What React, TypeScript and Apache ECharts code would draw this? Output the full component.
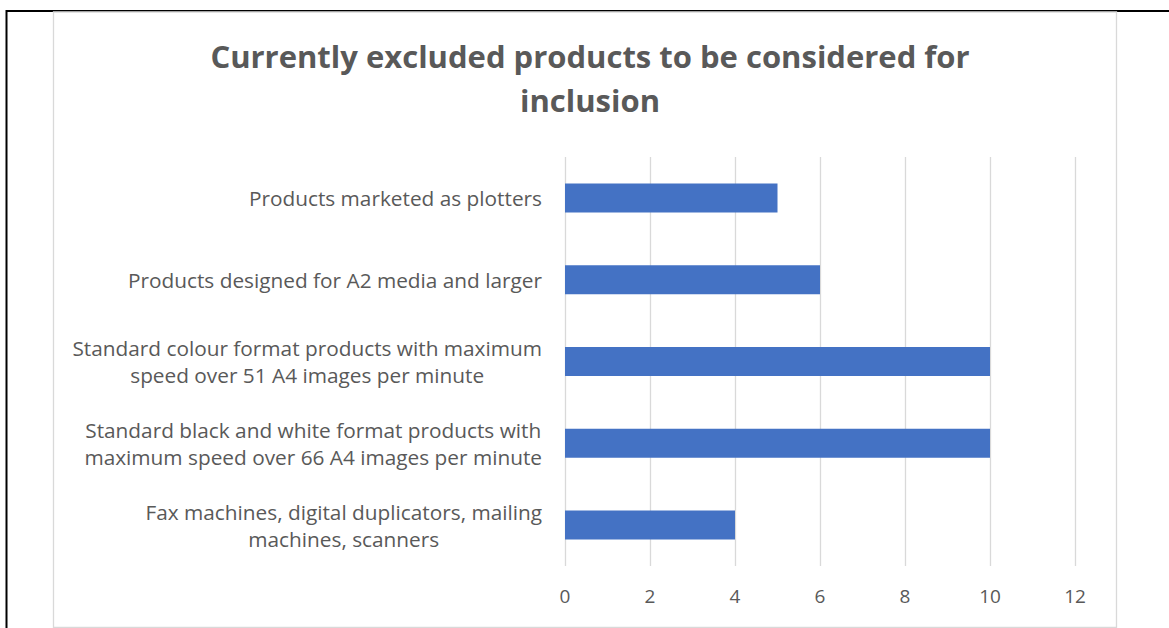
import React, { useEffect, useRef } from "react";
import * as echarts from "echarts";

// Categories listed top to bottom as they appear on the chart
const categories: string[][] = [
  ["Products marketed as plotters"],
  ["Products designed for A2 media and larger"],
  ["Standard colour format products with maximum", "speed over 51 A4 images per minute"],
  ["Standard black and white format products with", "maximum speed over 66 A4 images per minute"],
  ["Fax machines, digital duplicators, mailing", "machines, scanners"],
];
const counts: number[] = [5, 6, 10, 10, 4];
const axisMax = 12;
const axisStep = 2;
const titleText = "Currently excluded products to be considered for\ninclusion";

const FONT = "'Open Sans', 'Noto Sans', sans-serif";
const TEXT_GRAY = "#595959";
const LINE_GRAY = "#d9d9d9";

export default function App() {
  const ref = useRef<HTMLDivElement>(null);

  useEffect(() => {
    document.body.style.margin = "0";
    const chart = echarts.init(ref.current!, null, { renderer: "svg" });
    const names = categories.map((lines) => lines.join("\n"));
    chart.setOption({
      animation: false,
      backgroundColor: "#ffffff",
      title: {
        text: titleText,
        left: 585,
        top: 29,
        textAlign: "center",
        textStyle: {
          fontFamily: FONT,
          fontSize: 31,
          fontWeight: "bold",
          color: TEXT_GRAY,
          lineHeight: 44,
        },
      },
      grid: { left: 565, right: 94, top: 157, bottom: 62, containLabel: false },
      xAxis: {
        type: "value",
        min: 0,
        max: axisMax,
        interval: axisStep,
        axisLine: { show: false },
        axisTick: { show: false },
        splitLine: { show: true, lineStyle: { color: LINE_GRAY, width: 1.3 } },
        axisLabel: {
          color: TEXT_GRAY,
          fontFamily: FONT,
          fontSize: 19,
          margin: 20,
        },
      },
      yAxis: {
        type: "category",
        data: names,
        inverse: true,
        axisLine: { show: false },
        axisTick: { show: false },
        splitLine: { show: false },
        axisLabel: {
          margin: 23,
          formatter: (v: string) =>
            v
              .split("\n")
              .map((l) => `{c|${l}}`)
              .join("\n"),
          rich: {
            c: {
              align: "center",
              color: TEXT_GRAY,
              fontFamily: FONT,
              fontSize: 20.8,
              lineHeight: 27,
            },
          },
        },
      },
      series: [
        {
          type: "bar",
          data: counts,
          barWidth: 29,
          itemStyle: { color: "#4472c4" },
        },
      ],
      graphic: [
        // outer page frame (top and left edges)
        {
          type: "line",
          shape: { x1: 6, y1: 11, x2: 1169, y2: 11 },
          style: { stroke: "#000000", lineWidth: 2 },
        },
        {
          type: "line",
          shape: { x1: 6.5, y1: 10, x2: 6.5, y2: 628 },
          style: { stroke: "#000000", lineWidth: 2 },
        },
        // chart area border
        {
          type: "rect",
          shape: { x: 53.5, y: 12, width: 1063, height: 615.5 },
          style: { fill: "none", stroke: LINE_GRAY, lineWidth: 1.3 },
        },
      ],
    });
    return () => chart.dispose();
  }, []);

  return (
    <div
      ref={ref}
      style={{ position: "absolute", left: 0, top: 0, width: 1169, height: 628 }}
    />
  );
}
